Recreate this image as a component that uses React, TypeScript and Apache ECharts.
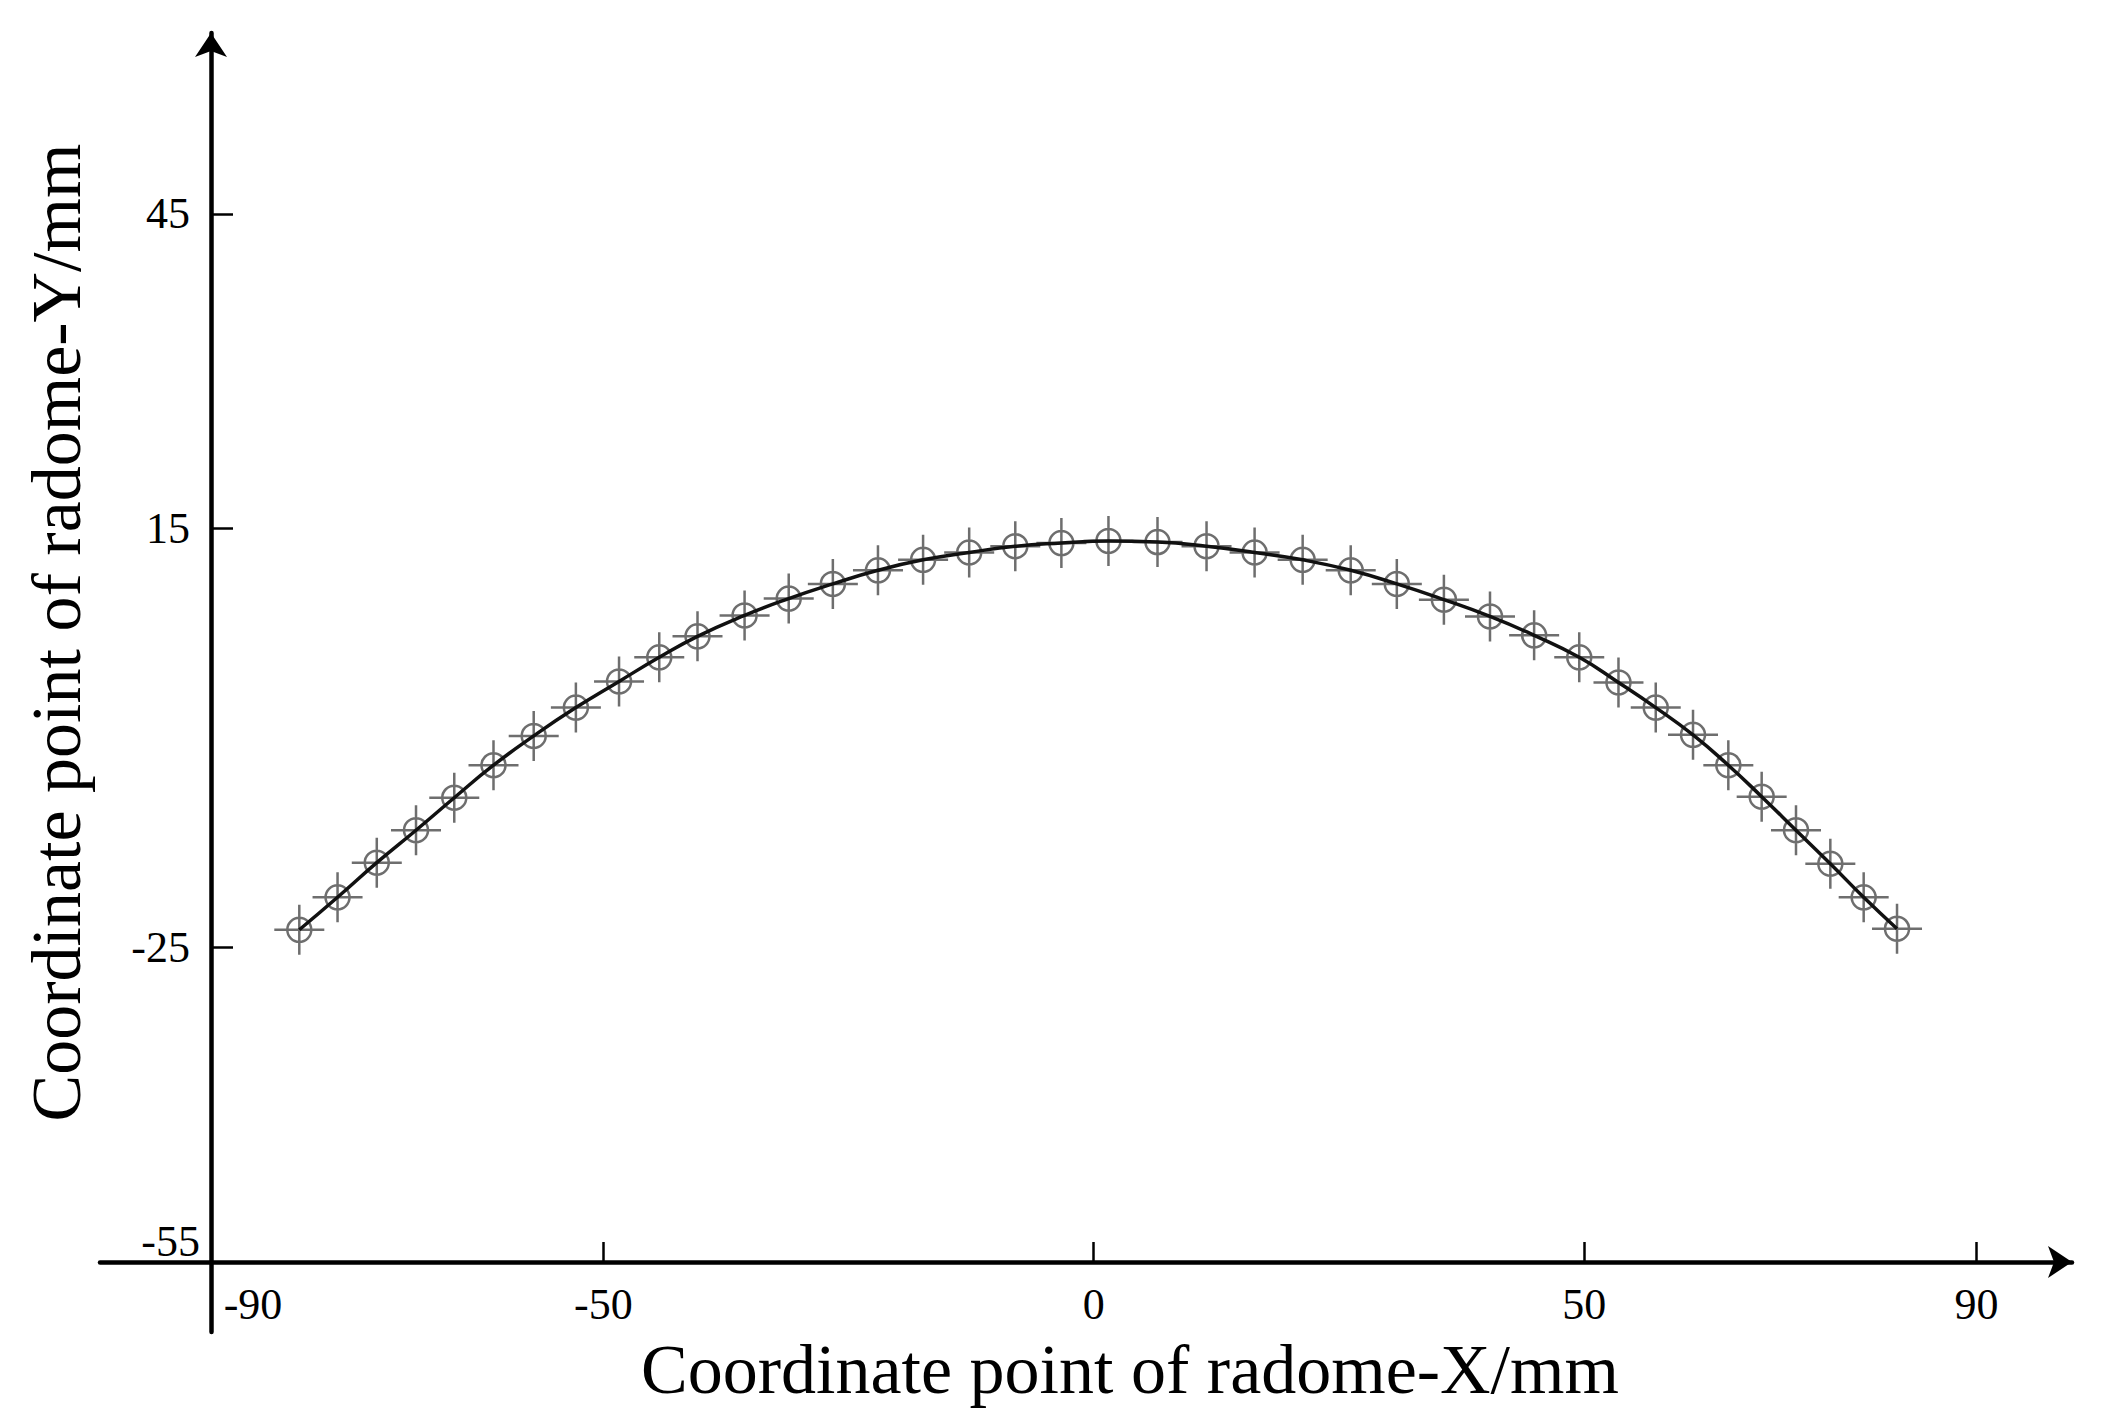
import React, { useEffect, useRef } from "react";
import * as echarts from "echarts";

// Points (mm)
const xValues = [
  -81.0, -77.1, -73.1, -69.1, -65.2, -61.2, -57.1, -52.8, -48.4, -44.3,
  -40.4, -35.6, -31.1, -26.6, -22.0, -17.4, -12.7, -8.0, -3.3, 1.5,
  6.5, 11.5, 16.4, 21.3, 26.2, 30.9, 35.7, 40.4, 44.9, 49.5,
  53.5, 57.3, 61.1, 64.7, 68.1, 71.6, 75.1, 78.5, 81.9,
];
const yValues = [
  -23.3, -20.2, -16.9, -13.8, -10.7, -7.6, -4.8, -2.1, 0.4, 2.7,
  4.7, 6.7, 8.3, 9.7, 11.0, 12.0, 12.7, 13.3, 13.6, 13.8,
  13.7, 13.3, 12.7, 12.0, 11.0, 9.7, 8.2, 6.6, 4.8, 2.7,
  0.3, -2.1, -4.7, -7.6, -10.6, -13.8, -17.0, -20.2, -23.2,
];
const xTickLabels = [-90, -50, 0, 50, 90];
const xTickMarks = [-50, 0, 50, 90];
const yTickLabels = [-55, -25, 15, 45];
const yTickMarks = [-25, 15, 45];

const xTitle = "Coordinate point of radome-X/mm";
const yTitle = "Coordinate point of radome-Y/mm";

const FONT = "Liberation Serif";

export default function App() {
  const ref = useRef<HTMLDivElement>(null);
  useEffect(() => {
    if (!ref.current) return;
    const chart = echarts.init(ref.current, null, { renderer: "svg" });
    const pts = xValues.map((x, i) => [x, yValues[i]]);
    const marker =
      "path://M0 25 L50 25 M25 0 L25 50 M37 25 A12 12 0 1 1 13 25 A12 12 0 1 1 37 25";
    chart.setOption({
      animation: false,
      backgroundColor: "#ffffff",
      grid: { left: 100, right: 2106 - 2072, top: 33, bottom: 1422 - 1332 },
      xAxis: {
        type: "value",
        min: -101.32,
        max: 99.74,
        offset: -70,
        splitLine: { show: false },
        axisLine: {
          show: true,
          onZero: false,
          lineStyle: { color: "#000", width: 4.5 },
          symbol: ["none", "arrow"],
          symbolSize: [24, 24],
        },
        axisTick: {
          show: true,
          inside: true,
          length: 20,
          customValues: xTickMarks,
          lineStyle: { color: "#000", width: 2.5 },
        },
        axisLabel: {
          show: true,
          customValues: xTickLabels,
          margin: 20,
          color: "#000",
          fontFamily: FONT,
          fontSize: 44,
          formatter: (v: number) => (v === -90 ? "{first|-90}" : "{n|" + v + "}"),
          rich: {
            first: { padding: [0, 0, 0, 84], fontFamily: FONT, fontSize: 44, color: "#000" },
            n: { fontFamily: FONT, fontSize: 44, color: "#000" },
          },
        },
        name: xTitle,
        nameLocation: "middle",
        nameGap: 72,
        nameTextStyle: {
          fontFamily: FONT,
          fontSize: 70,
          color: "#000",
          padding: [0, 0, 0, 88],
        },
      },
      yAxis: {
        type: "value",
        min: -61.68,
        max: 62.27,
        offset: -111,
        splitLine: { show: false },
        axisLine: {
          show: true,
          onZero: false,
          lineStyle: { color: "#000", width: 4.5 },
          symbol: ["none", "arrow"],
          symbolSize: [24, 24],
        },
        axisTick: {
          show: true,
          inside: true,
          length: 22,
          customValues: yTickMarks,
          lineStyle: { color: "#000", width: 2.5 },
        },
        axisLabel: {
          show: true,
          customValues: yTickLabels,
          margin: 11,
          color: "#000",
          fontFamily: FONT,
          fontSize: 44,
          formatter: (v: number) => (v === -55 ? "{low|-55}" : "{n|" + v + "}"),
          rich: {
            low: { padding: [0, 0, 40, 0], fontFamily: FONT, fontSize: 44, color: "#000" },
            n: { padding: [0, 10, 0, 0], fontFamily: FONT, fontSize: 44, color: "#000" },
          },
        },
        name: yTitle,
        nameLocation: "middle",
        nameGap: 120,
        nameRotate: 90,
        nameTextStyle: {
          fontFamily: FONT,
          fontSize: 70,
          color: "#000",
          padding: [0, 0, 0, 100],
        },
      },
      series: [
        {
          type: "scatter",
          data: pts,
          symbol: marker,
          symbolSize: 50,
          itemStyle: { color: "none", borderColor: "#4a4a4a", borderWidth: 2.5 },
          z: 2,
        },
        {
          type: "line",
          data: pts,
          smooth: true,
          showSymbol: false,
          lineStyle: { color: "#111", width: 3.5 },
          z: 3,
        },
      ],
    });
    return () => chart.dispose();
  }, []);
  return (
    <div
      ref={ref}
      style={{ position: "fixed", left: 0, top: 0, width: 2106, height: 1422, background: "#fff" }}
    />
  );
}
